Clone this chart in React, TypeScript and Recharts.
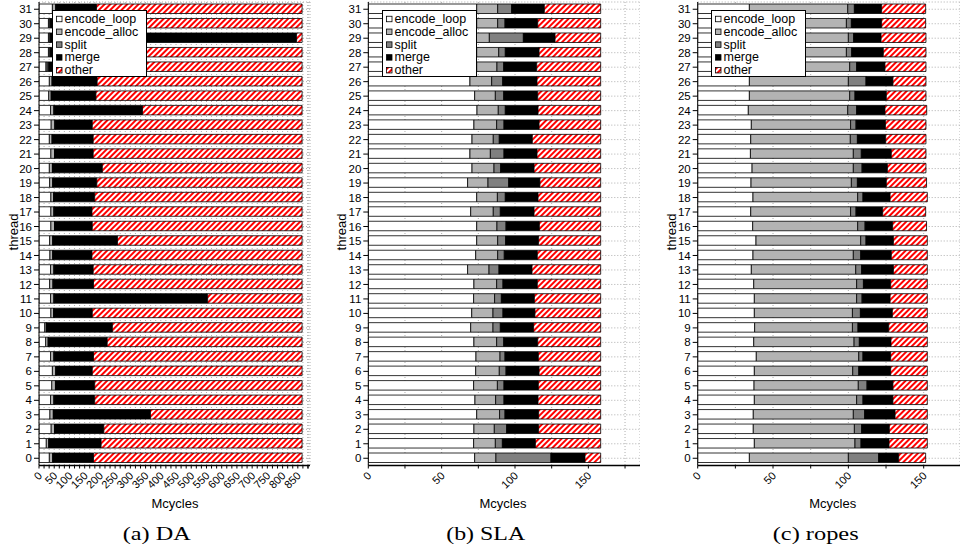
import React from 'react';
import { BarChart, Bar, XAxis, YAxis, CartesianGrid, Legend } from 'recharts';

const threads = [0, 1, 2, 3, 4, 5, 6, 7, 8, 9, 10, 11, 12, 13, 14, 15, 16, 17, 18, 19, 20, 21, 22, 23, 24, 25, 26, 27, 28, 29, 30, 31];
const seriesNames = ['encode_loop', 'encode_alloc', 'split', 'merge', 'other'];

// (a) DA
const daLoop = [34, 24, 40, 36, 38, 42, 44, 38, 22, 19, 39, 38, 35, 38, 36, 35, 39, 39, 39, 35, 34, 39, 34, 40, 38, 32, 34, 23, 31, 31, 31, 44];
const daAlloc = [11, 8, 11, 11, 11, 12, 11, 11, 8, 5, 9, 11, 11, 11, 9, 10, 12, 10, 9, 10, 10, 12, 9, 12, 11, 8, 9, 4, 5, 5, 5, 11];
const daSplit = [1, 1, 1, 1, 1, 1, 1, 1, 1, 1, 1, 1, 1, 1, 1, 1, 1, 1, 1, 1, 1, 1, 1, 1, 1, 1, 1, 5, 1, 1, 1, 1];
const daMerge = [133, 171, 161, 318, 133, 128, 119, 129, 193, 216, 126, 504, 132, 128, 128, 212, 123, 124, 134, 144, 163, 126, 134, 122, 290, 146, 147, 147, 148, 809, 153, 133];
const daOther = [685, 660, 651, 498, 681, 681, 689, 685, 640, 623, 689, 310, 685, 686, 690, 606, 689, 690, 681, 674, 656, 686, 686, 689, 524, 677, 673, 685, 679, 18, 674, 675];

// (b) SLA
const slaLoop = [72.5, 71.8, 72, 73.9, 72.7, 71.8, 73.2, 73.4, 72, 69.8, 70.5, 71.8, 72, 67.7, 73.2, 73.9, 73.9, 69.8, 73.9, 67.7, 70.7, 69.3, 70.7, 72, 74.1, 72.5, 69.3, 73.9, 73.9, 73.4, 73.9, 73.9];
const slaAlloc = [14.5, 14.8, 13.9, 15.6, 14.1, 16.2, 16.1, 16.4, 15.5, 15.2, 14.5, 14.3, 15.5, 14.6, 15, 14.3, 13.8, 15.4, 14.1, 13.9, 15, 13.9, 14.5, 15.5, 14.5, 14.1, 14.8, 13.8, 15, 9.1, 14.3, 14.3];
const slaSplit = [37.5, 4.8, 8.4, 3.7, 5.7, 4.5, 4.6, 3.4, 4.8, 5, 6.8, 4.6, 4.3, 6.8, 4.5, 5.4, 6.2, 4.8, 5.4, 14.1, 4.5, 9.3, 4.1, 5, 4.8, 5.7, 7.5, 4.6, 4.5, 23.2, 5, 9.5];
const slaMerge = [23.2, 22.5, 21.8, 22.9, 23.2, 23.4, 22.5, 22.7, 23.2, 22.7, 21.8, 22.5, 23.4, 22.5, 22.5, 22.5, 22.7, 23, 22.3, 21.3, 22.8, 22.5, 22.5, 23.9, 22.3, 23.2, 23.4, 22.5, 23, 21.6, 22.3, 22.3];
const slaOther = [10.7, 44.5, 42.3, 42.3, 42.7, 42.5, 42, 42.5, 42.9, 45.7, 44.8, 45.2, 43.2, 46.8, 43.2, 42.3, 41.8, 45.4, 42.7, 41.4, 45.4, 43.4, 46.6, 42, 42.7, 42.9, 43.4, 43.6, 42, 31.1, 42.9, 38.4];

// (c) ropes
const ropesLoop = [34.3, 37.6, 36.9, 36.9, 37.6, 37.4, 37.6, 38.9, 37.2, 37.8, 37.6, 37.6, 37.2, 35.6, 36.7, 38.7, 36.5, 35.2, 36.7, 35.4, 36.1, 35, 35.2, 35.6, 33.6, 34.3, 34.3, 34.3, 34.3, 34.3, 34.3, 34.3];
const ropesAlloc = [65.7, 66.8, 67.1, 66.4, 67.9, 69.2, 65.3, 68, 66.6, 64.9, 65.1, 67.9, 68.3, 69.3, 66.6, 69.5, 69.7, 66.3, 69.5, 66.6, 67.2, 68.3, 66.1, 65.9, 66, 66.6, 65.7, 66.6, 64.4, 65.7, 64.4, 65.3];
const ropesSplit = [20.1, 4, 4.8, 7.5, 4.2, 5.8, 4, 2.8, 3.5, 3.7, 5.3, 3.6, 4.5, 3.9, 4.9, 3.5, 4.9, 3.6, 3.5, 4, 5.8, 5.3, 4.7, 3.6, 5.9, 3.5, 11.7, 4.6, 3.5, 3.5, 3.3, 4.4];
const ropesMerge = [13.3, 18.6, 18.4, 20.2, 19.9, 17.2, 21.2, 18.4, 21, 20.4, 21.2, 18.6, 18.1, 21.1, 20.3, 18.2, 18.3, 17.7, 18, 19.2, 16.8, 19.9, 18.8, 19.5, 18.8, 20.8, 17.9, 18.8, 21, 18.2, 20.1, 18.1];
const ropesOther = [17.9, 25.4, 25.2, 21.4, 22.8, 22.8, 24.3, 24.3, 24.1, 25.6, 23.2, 24.7, 24.3, 22.5, 23.9, 22.5, 22.5, 28.5, 24.7, 26.7, 25.6, 23, 26.7, 26.9, 27.7, 26.3, 21.9, 27.2, 28.3, 29.8, 29.2, 29.2];

const daMajorTicks = [0, 50, 100, 150, 200, 250, 300, 350, 400, 450, 500, 550, 600, 650, 700, 750, 800, 850];
const slaTicks = [0, 25, 50, 75, 100, 125, 150, 175];
const ropesTicks = [0, 25, 50, 75, 100, 125, 150];
const labeledStep = 50;

const daTicks: number[] = [];
daMajorTicks.forEach((t) => {
  daTicks.push(t, t + 50 / 3, t + 100 / 3);
});
daTicks.push(900 - 50 / 3);

const COLORS: Record<string, string> = {
  encode_loop: '#ffffff',
  encode_alloc: '#b3b3b3',
  split: '#808080',
  merge: '#000000',
};

const FONT = '"Liberation Sans", Arial, Helvetica, sans-serif';

const XTick = (props: any) => {
  const { x, y, payload } = props;
  const v = payload.value;
  const r = v / labeledStep;
  if (Math.abs(r - Math.round(r)) > 1e-6) return <g />;
  const tx = x + 1;
  const ty = y + 3;
  return (
    <text
      x={tx}
      y={ty}
      transform={`rotate(-45 ${tx} ${ty})`}
      textAnchor="end"
      dominantBaseline="central"
      fontSize={11}
      fill="#000"
      fontFamily={FONT}
    >
      {Math.round(v)}
    </text>
  );
};

const HatchDef = ({ id }: { id: string }) => (
  <pattern id={id} patternUnits="userSpaceOnUse" width="4" height="4" patternTransform="rotate(45)">
    <rect width="4" height="4" fill="#fff" />
    <rect width="2" height="4" fill="#ff0000" />
  </pattern>
);

const makeLegend = (hatchId: string) => () => (
  <svg width={96} height={68} style={{ display: 'block' }}>
    <defs>
      <HatchDef id={hatchId} />
    </defs>
    <rect x={0.5} y={0.5} width={94} height={66} fill="#fff" stroke="#000" strokeWidth={1} />
    {seriesNames.map((name, i) => {
      const cy = 9 + i * 12.8;
      return (
        <g key={name}>
          <rect
            x={4.5}
            y={cy - 2.75}
            width={5.5}
            height={5.5}
            fill={name === 'other' ? `url(#${hatchId})` : COLORS[name]}
            stroke="#000"
            strokeWidth={0.8}
          />
          <text x={12.5} y={cy} dominantBaseline="central" fontSize={12.5} fill="#000" fontFamily={FONT}>
            {name}
          </text>
        </g>
      );
    })}
  </svg>
);

type PanelCfg = {
  key: string;
  left: number;
  loop: number[];
  alloc: number[];
  split: number[];
  merge: number[];
  other: number[];
  domain: [number, number];
  ticks: number[];
  yWidth: number;
  ml: number;
  mr: number;
  legendLeft: number;
  threadX: number;
  mcX: number;
  capX: number;
  capW: number;
  caption: string;
};

const panels: PanelCfg[] = [
  {
    key: 'da', left: 0, loop: daLoop, alloc: daAlloc, split: daSplit, merge: daMerge, other: daOther,
    domain: [0, 890], ticks: daTicks, yWidth: 30, ml: 9, mr: 10, legendLeft: 52.3,
    threadX: 13.3, mcX: 175, capX: 156.7, capW: 68, caption: '(a) DA',
  },
  {
    key: 'sla', left: 320, loop: slaLoop, alloc: slaAlloc, split: slaSplit, merge: slaMerge, other: slaOther,
    domain: [0, 185.2], ticks: slaTicks, yWidth: 35, ml: 13.3, mr: 0, legendLeft: 61.7,
    threadX: 21.7, mcX: 183, capX: 165.7, capW: 79, caption: '(b) SLA',
  },
  {
    key: 'ropes', left: 640, loop: ropesLoop, alloc: ropesAlloc, split: ropesSplit, merge: ropesMerge, other: ropesOther,
    domain: [0, 174.1], ticks: ropesTicks, yWidth: 40, ml: 17.7, mr: 0, legendLeft: 71,
    threadX: 31.7, mcX: 192.7, capX: 175.7, capW: 86, caption: '(c) ropes',
  },
];

const Panel = ({ cfg }: { cfg: PanelCfg }) => {
  const hatchId = `hatch-${cfg.key}`;
  const data = threads.map((t, i) => ({
    thread: t,
    encode_loop: cfg.loop[i],
    encode_alloc: cfg.alloc[i],
    split: cfg.split[i],
    merge: cfg.merge[i],
    other: cfg.other[i],
  }));
  return (
    <div style={{ position: 'absolute', left: cfg.left, top: 0, width: 320, height: 548, fontFamily: FONT }}>
      <BarChart
        width={320}
        height={548}
        data={data}
        layout="vertical"
        margin={{ top: 2, right: cfg.mr, bottom: 42.5, left: cfg.ml }}
        barSize={9.5}
      >
        <defs>
          <HatchDef id={hatchId} />
        </defs>
        <CartesianGrid strokeDasharray="1 2" stroke="#999" strokeWidth={0.8} />
        <XAxis
          type="number"
          domain={cfg.domain}
          ticks={cfg.ticks}
          allowDataOverflow
          interval={0}
          height={40}
          tickSize={3}
          tickMargin={2}
          tick={<XTick />}
          axisLine={{ stroke: '#000', strokeWidth: 1.5 }}
          tickLine={{ stroke: '#000' }}
        />
        <YAxis
          type="category"
          dataKey="thread"
          reversed
          interval={0}
          width={cfg.yWidth}
          tickSize={5}
          tickMargin={2}
          tick={{ fontSize: 11.5, fill: '#000', fontFamily: FONT }}
          axisLine={{ stroke: '#000', strokeWidth: 1 }}
          tickLine={{ stroke: '#000' }}
        />
        {seriesNames.map((name) => (
          <Bar
            key={name}
            dataKey={name}
            stackId="s"
            fill={name === 'other' ? `url(#${hatchId})` : COLORS[name]}
            stroke="#000"
            strokeWidth={0.8}
            isAnimationActive={false}
          />
        ))}
        <Legend
          layout="vertical"
          align="center"
          verticalAlign="middle"
          wrapperStyle={{ left: cfg.legendLeft, top: 10, width: 96, height: 68 }}
          content={makeLegend(`${hatchId}-lg`)}
        />
      </BarChart>
      <svg width={320} height={548} style={{ position: 'absolute', left: 0, top: 0, pointerEvents: 'none' }}>
        <text
          x={cfg.threadX}
          y={232}
          transform={`rotate(-90 ${cfg.threadX} 232)`}
          textAnchor="middle"
          dominantBaseline="central"
          fontSize={13}
          fill="#000"
          fontFamily={FONT}
        >
          thread
        </text>
        <text x={cfg.mcX} y={503} textAnchor="middle" dominantBaseline="central" fontSize={13} fill="#000" fontFamily={FONT}>
          Mcycles
        </text>
        <text
          x={cfg.capX - cfg.capW / 2}
          y={533}
          dominantBaseline="central"
          fontSize={19}
          fill="#000"
          fontFamily='"Liberation Serif", "Times New Roman", serif'
          textLength={cfg.capW}
          lengthAdjust="spacingAndGlyphs"
        >
          {cfg.caption}
        </text>
      </svg>
    </div>
  );
}

export default function App() {
  return (
    <div style={{ position: 'absolute', left: 0, top: 0, width: 960, height: 548, background: '#fff', overflow: 'hidden' }}>
      {panels.map((p) => (
        <Panel key={p.key} cfg={p} />
      ))}
    </div>
  );
}
